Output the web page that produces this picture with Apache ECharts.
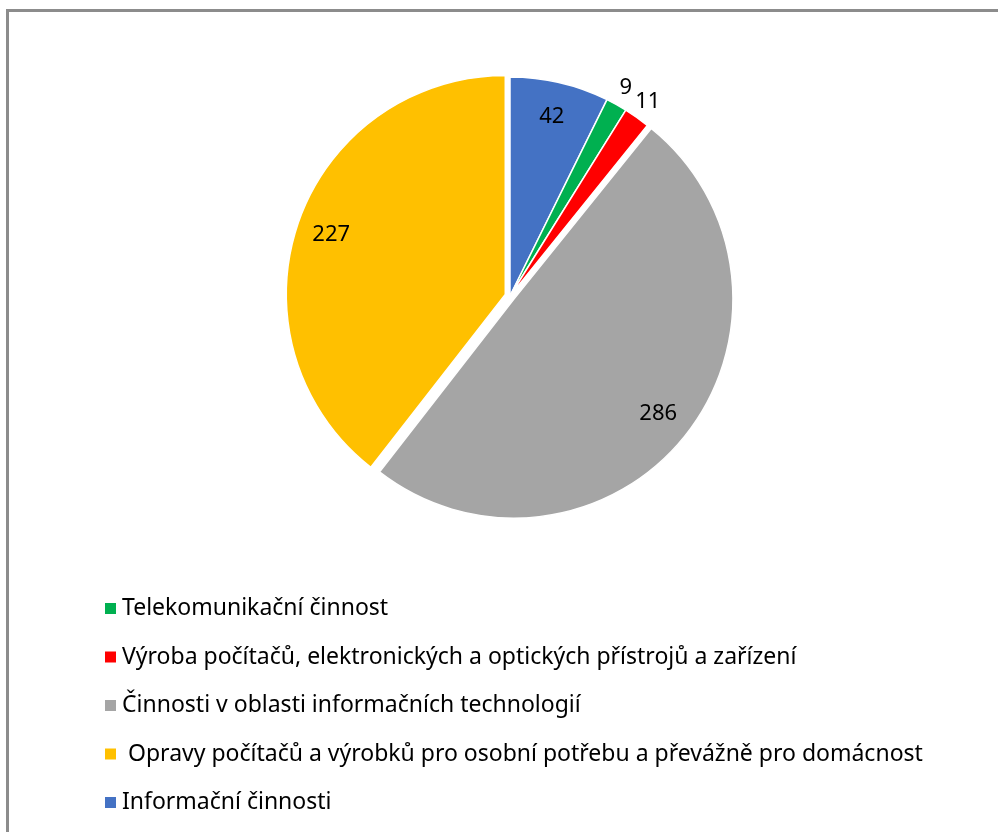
<!DOCTYPE html>
<html>
<head>
<meta charset="utf-8">
<script src="https://cdn.jsdelivr.net/npm/echarts@6/dist/echarts.min.js"></script>
<style>
  html, body { margin: 0; padding: 0; background: #fff; overflow: hidden; }
  #frame {
    position: absolute; left: 6px; top: 9px; width: 1010px; height: 850px;
    border: 3px solid #8c8c8c; box-sizing: border-box; z-index: 2; pointer-events: none;
  }
  #chart { position: absolute; left: 0; top: 0; width: 998px; height: 832px; }
</style>
</head>
<body>
<div id="chart"></div>
<div id="frame"></div>
<script>
// data in pie order (clockwise from 12 o'clock)
const categories = [
  'Informační činnosti',
  'Telekomunikační činnost',
  'Výroba počítačů, elektronických a optických přístrojů a zařízení',
  'Činnosti v oblasti informačních technologií',
  ' Opravy počítačů a výrobků pro osobní potřebu a převážně pro domácnost'
]
const values = [42, 9, 11, 286, 227]
const colors = ['#4472C4', '#00B050', '#FF0000', '#A5A5A5', '#FFC000']
// legend order as in the picture
const legendOrder = [1, 2, 3, 4, 0]
const exploded = [false, false, false, true, true]
const outerLabel = [false, true, true, false, false]

const chart = echarts.init(document.getElementById('chart'))
const font = 'Noto Sans'
const center = [510, 296]

function labelSeries(radius, useOuter) {
  return {
    type: 'pie',
    silent: true,
    center: center,
    radius: radius,
    startAngle: 90,
    selectedMode: 'multiple',
    selectedOffset: 5,
    itemStyle: { color: 'transparent', borderWidth: 0 },
    label: {
      position: 'inside',
      color: '#000',
      fontFamily: font,
      fontSize: 22,
      formatter: '{c}'
    },
    labelLine: { show: false },
    emphasis: { disabled: true },
    data: categories.map((n, i) => ({
      name: n + '#lbl',
      value: values[i],
      selected: exploded[i],
      label: { show: outerLabel[i] === useOuter }
    }))
  }
}

const option = {
  backgroundColor: '#fff',
  animation: false,
  legend: {
    data: legendOrder.map(i => categories[i]),
    orient: 'vertical',
    left: 103,
    top: 597,
    padding: 0,
    icon: 'rect',
    itemWidth: 13,
    itemHeight: 13,
    itemGap: 25.5,
    textStyle: { fontFamily: font, fontSize: 23, color: '#000', lineHeight: 23 },
    selectedMode: false
  },
  series: [
    {
      type: 'pie',
      center: center,
      radius: [0, 219],
      startAngle: 90,
      selectedMode: 'multiple',
      selectedOffset: 5,
      itemStyle: { borderColor: '#fff', borderWidth: 1.5 },
      label: { show: false },
      labelLine: { show: false },
      emphasis: { disabled: true },
      data: categories.map((n, i) => ({
        name: n,
        value: values[i],
        selected: exploded[i],
        itemStyle: { color: colors[i] }
      }))
    },
    labelSeries([180, 182], false),
    labelSeries([234, 236], true)
  ]
}
chart.setOption(option)
</script>
</body>
</html>
